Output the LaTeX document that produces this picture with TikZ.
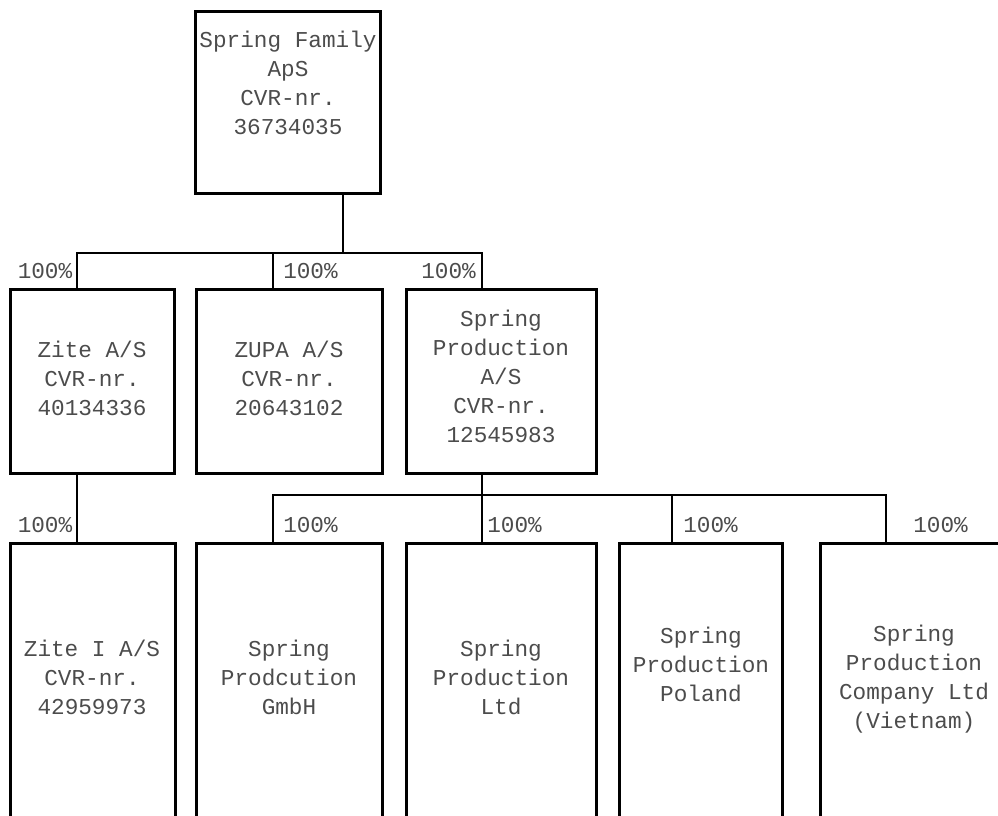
\documentclass[tikz,border=0pt]{standalone}
\usepackage{fontspec}
\setmonofont{Liberation Mono}
\begin{document}
\begin{tikzpicture}[x=1pt, y=-1pt,
  every node/.style={font=\ttfamily\fontsize{22.7}{29}\selectfont, text=black!70, align=center, inner sep=0pt},
  box/.style={draw=black, line width=3pt, rectangle},
  link/.style={line width=2.6pt}]
\useasboundingbox (0,0) rectangle (998,816);
\clip (0,0) rectangle (998,816);
% boxes
\node[box, minimum width=185pt, minimum height=181pt] (fam) at (287.5,102.5) {};
\node[box, minimum width=164pt, minimum height=184pt] (zite) at (92,381) {};
\node[box, minimum width=186pt, minimum height=184pt] (zupa) at (289,381) {};
\node[box, minimum width=190pt, minimum height=184pt] (spas) at (501,381) {};
\node[box, minimum width=165pt, minimum height=297pt] (ziteI) at (92.5,691.5) {};
\node[box, minimum width=186pt, minimum height=297pt] (gmbh) at (289,691.5) {};
\node[box, minimum width=190pt, minimum height=297pt] (ltd) at (501,691.5) {};
\node[box, minimum width=163pt, minimum height=297pt] (poland) at (700.5,691.5) {};
\node[box, minimum width=188pt, minimum height=297pt] (vietnam) at (914,691.5) {};
% texts
\node (fam-t) at (288,83) {Spring Family\\ApS\\CVR-nr.\\36734035};
\node (zite-t) at (92,378) {Zite A/S\\CVR-nr.\\40134336};
\node (zupa-t) at (289,378) {ZUPA A/S\\CVR-nr.\\20643102};
\node (spas-t) at (501,376) {Spring\\Production\\A/S\\CVR-nr.\\12545983};
\node (ziteI-t) at (92,677) {Zite I A/S\\CVR-nr.\\42959973};
\node (gmbh-t) at (289,677) {Spring\\Prodcution\\GmbH};
\node (ltd-t) at (501,677) {Spring\\Production\\Ltd};
\node (poland-t) at (701,664) {Spring\\Production\\Poland};
\node (vietnam-t) at (914,679) {Spring\\Production\\Company Ltd\\(Vietnam)};
% ownership lines
\coordinate (bus1) at (343,253);
\coordinate (bus2) at (482,495);
\draw[link] (fam.south -| bus1) -- (bus1);
\draw[link] (bus1) -| ([xshift=-15pt]zite.north);
\draw[link] (bus1) -| ([xshift=-16pt]zupa.north);
\draw[link] (bus1) -| (spas.north -| bus2);
\draw[link] (spas.south -| bus2) -- (bus2);
\draw[link] (bus2) -| ([xshift=-16pt]gmbh.north);
\draw[link] (bus2) -- (ltd.north -| bus2);
\draw[link] (bus2) -| ([xshift=-28.5pt]poland.north);
\draw[link] (bus2) -| ([xshift=-28pt]vietnam.north);
\draw[link] ([xshift=-15pt]zite.south) -- ([xshift=-15pt]zite.south |- ziteI.north);
% shares
\node (p1) at (45,271) {100\%};
\node (p2) at (310.5,271) {100\%};
\node (p3) at (448.5,271) {100\%};
\node (p4) at (45,525) {100\%};
\node (p5) at (310.5,525) {100\%};
\node (p6) at (514.5,525) {100\%};
\node (p7) at (710.5,525) {100\%};
\node (p8) at (940.5,525) {100\%};
\end{tikzpicture}
\end{document}
